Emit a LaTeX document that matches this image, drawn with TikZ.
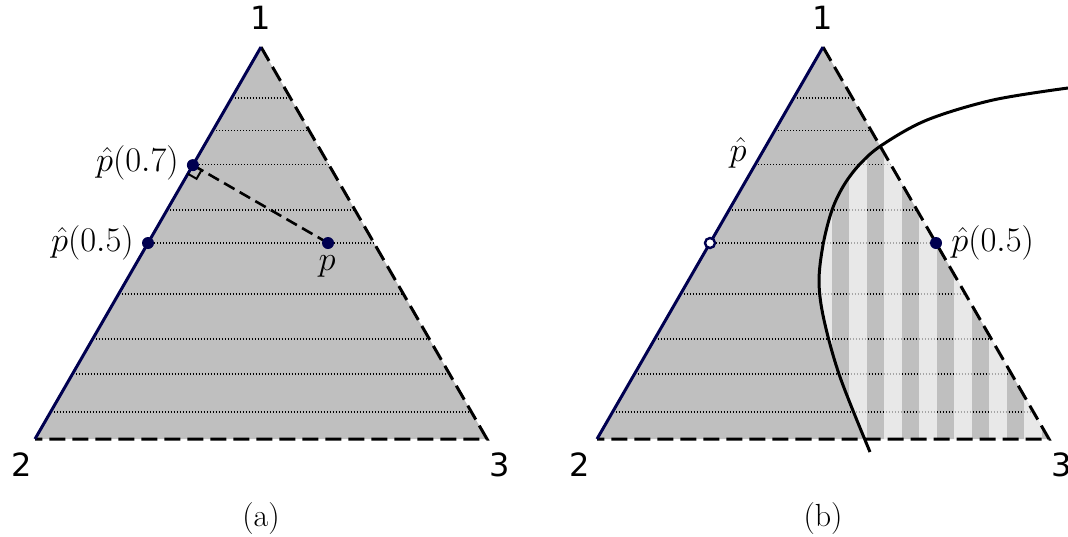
\documentclass[tikz,border=0pt]{standalone}
\usepackage{fontspec}
\newfontfamily\numfont{DejaVu Sans}
\usetikzlibrary{calc}
\definecolor{navy}{RGB}{0,0,80}
\definecolor{simplexgray}{RGB}{191,191,191}
\tikzset{
  edgesolid/.style={draw=navy,line width=1.5pt},
  edgedash/.style={draw=black,line width=1.5pt,dash pattern=on 8pt off 3.5pt},
  levelline/.style={draw=black,line width=0.6pt,dash pattern=on 0.6pt off 0.9pt},
  dotpt/.style={circle,fill=navy,inner sep=0pt,minimum size=6pt},
  hollowpt/.style={circle,fill=white,draw=navy,line width=1.2pt,inner sep=0pt,minimum size=5pt},
  numlab/.style={font=\numfont\fontsize{16}{18}\selectfont,inner sep=0pt},
  mlab/.style={font=\fontsize{19}{23}\selectfont,inner sep=0pt},
  caplab/.style={font=\fontsize{16}{19}\selectfont,inner sep=0pt},
  curveline/.style={draw=black,line width=1.5pt},
  perpline/.style={draw=black,line width=1.3pt,dash pattern=on 6pt off 3pt},
}
\begin{document}
\begin{tikzpicture}[x=0.5pt,y=-0.5pt]
\useasboundingbox (0,0) rectangle (1068,536);
% ---------- (a) ----------
\coordinate (a1) at (261,47);
\coordinate (a2) at (35,439);
\coordinate (a3) at (487,439);
\fill[simplexgray] (a1) -- (a2) -- (a3) -- cycle;
\foreach \t in {0.870,0.788,0.7,0.584,0.5,0.37,0.255,0.166,0.069}{
  \draw[levelline] ($(a2)!\t!(a1)$) -- ($(a3)!\t!(a1)$);
}
\draw[edgedash] (a1) -- (a3) -- (a2);
\draw[edgesolid] (a2) -- (a1);
\coordinate (pa) at ($(a2)!0.5!(a1)$);
\coordinate (pp) at ($(a2)!0.5!(a1)+(180,0)$);
\coordinate (ft) at ($(a2)!(pp)!(a1)$);
\draw[perpline] (ft) -- (pp);
\coordinate (sq1) at ($(ft)!5pt!(pp)$);
\coordinate (sq3) at ($(ft)!5pt!(a2)$);
\draw[black,line width=1pt] (sq1) -- ($(sq1)+(sq3)-(ft)$) -- (sq3);
\node[dotpt] (dpb) at (ft) {};
\node[dotpt] (dpa) at (pa) {};
\node[dotpt] (dpp) at (pp) {};
\node[mlab,anchor=east] (lpb) at (179,163) {$\hat p(0.7)$};
\node[mlab,anchor=east] (lpa) at (134,243) {$\hat p(0.5)$};
\node[mlab] (lpp) at (327,266) {$p$};
\node[numlab] (n1a) at (261,18) {1};
\node[numlab] (n2a) at (22,465) {2};
\node[numlab] (n3a) at (500,465) {3};
\node[caplab] (capa) at (261,519) {(a)};
% ---------- (b) ----------
\coordinate (b1) at (823,47);
\coordinate (b2) at (597,439);
\coordinate (b3) at (1049,439);
\fill[simplexgray] (b1) -- (b2) -- (b3) -- cycle;
\foreach \t in {0.870,0.788,0.7,0.584,0.5,0.37,0.255,0.166,0.069}{
  \draw[levelline] ($(b2)!\t!(b1)$) -- ($(b3)!\t!(b1)$);
}
\def\curvepts{(870,452) (840,377) (824,320) (819,282) (823,245) (832,210) (844,185) (860,164) (882,145) (927,120) (993,100) (1068,88)}
\begin{scope}
  \clip (b1) -- (b2) -- (b3) -- cycle;
  \clip plot[smooth,tension=0.55] coordinates {\curvepts} -- (1100,60) -- (1100,470) -- cycle;
  \foreach \k in {0,...,6}{
    \fill[white,opacity=0.65] (814+35*\k,40) rectangle (832+35*\k,460);
  }
\end{scope}
\draw[edgedash] (b1) -- (b3) -- (b2);
\draw[edgesolid] (b2) -- (b1);
\draw[curveline] plot[smooth,tension=0.55] coordinates {\curvepts};
\node[hollowpt] (hb) at ($(b2)!0.5!(b1)$) {};
\node[dotpt] (db) at ($(b3)!0.5!(b1)$) {};
\node[mlab] (lhb) at (738,153) {$\hat p$};
\node[mlab,anchor=west] (ldb) at (951,243) {$\hat p(0.5)$};
\node[numlab] (n1b) at (823,18) {1};
\node[numlab] (n2b) at (580,465) {2};
\node[numlab] (n3b) at (1062,465) {3};
\node[caplab] (capb) at (823,519) {(b)};
\end{tikzpicture}
\end{document}
